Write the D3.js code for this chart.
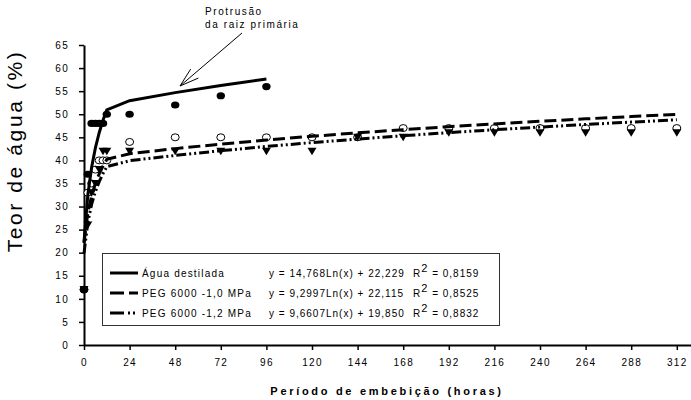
<!DOCTYPE html>
<html>
<head>
<meta charset="utf-8">
<script src="https://cdn.jsdelivr.net/npm/d3@7"></script>
<style>
  body { margin: 0; background: #fff; }
  text { font-family: Arial, "Liberation Sans", sans-serif; fill: #000; }
</style>
</head>
<body>
<svg id="chart" width="691" height="400"></svg>
<script>
/*
Data
*/

// imbibition times (hours)
var horas = [0, 2, 4, 6, 8, 10, 12, 24, 48, 72, 96, 120, 144, 168, 192, 216, 240, 264, 288, 312];

// observed water content (%) – agua stops at 96 h (root protrusion)
var agua  = [12, 37, 48, 48, 48, 48, 50, 50, 52, 54, 56];
var peg10 = [12, 33, 35, 38, 40, 40, 40, 44, 45, 45, 45, 45, 45, 47, 47, 47, 47, 47, 47, 47];
var peg12 = [12, 26, 33, 35, 38, 42, 42, 42, 42, 42, 42, 42, 45, 45, 46, 46, 46, 46, 46, 46];

// legend / fitted log trend (y = a Ln(x) + b, x = observation order)
var nomes    = ["Água destilada", "PEG 6000 -1,0 MPa", "PEG 6000 -1,2 MPa"];
var coefA    = [14.768, 9.2997, 9.6607];
var coefB    = [22.229, 22.115, 19.850];
var equacoes = ["y = 14,768Ln(x) + 22,229", "y = 9,2997Ln(x) + 22,115", "y = 9,6607Ln(x) + 19,850"];
var r2       = ["0,8159", "0,8525", "0,8832"];

var xTicks = d3.range(0, 313, 24);
var yTicks = d3.range(0, 66, 5);

/*
Setup
*/

var svg = d3.select("#chart");

var x = d3.scaleLinear().domain([0, 320]).range([84, 692]);
var y = d3.scaleLinear().domain([0, 65]).range([345, 45]);

var series = [
  { obs: agua,  dash: null,            marker: "dot" },
  { obs: peg10, dash: "12,5",          marker: "ring" },
  { obs: peg12, dash: "10,3,2,3,2,3",  marker: "tri" }
];

/*
Axes
*/

var xAxis = svg.append("g")
  .attr("transform", "translate(0,345)")
  .call(d3.axisBottom(x).tickValues(xTicks).tickSize(5).tickSizeOuter(0).tickPadding(9));

var yAxis = svg.append("g")
  .attr("transform", "translate(84,0)")
  .call(d3.axisLeft(y).tickValues(yTicks).tickSize(5).tickSizeOuter(0).tickPadding(10));

[xAxis, yAxis].forEach(function (g) {
  g.select(".domain").attr("stroke", "#000").attr("stroke-width", 2);
  g.selectAll(".tick line").attr("stroke", "#000").attr("stroke-width", 1.5);
  g.selectAll(".tick text")
    .attr("font-size", 10)
    .attr("font-family", "Arial, 'Liberation Sans', sans-serif")
    .style("letter-spacing", "1.3px")
    .attr("fill", "#000");
});

svg.append("text")
  .attr("transform", "translate(22,151) rotate(-90)")
  .attr("text-anchor", "middle")
  .attr("font-size", 21)
  .style("letter-spacing", "2.6px")
  .text("Teor de água (%)");

svg.append("text")
  .attr("x", 387)
  .attr("y", 395)
  .attr("text-anchor", "middle")
  .attr("font-size", 11)
  .attr("font-weight", "bold")
  .style("letter-spacing", "2.7px")
  .text("Período de embebição (horas)");

/*
Markers (rings first, then triangles, then filled dots)
*/

var tri = "M-4.5,-3.5L4.5,-3.5L0,4Z";
var drawOrder = [1, 2, 0];

drawOrder.forEach(function (k) {
  var s = series[k];
  var g = svg.append("g");
  s.obs.forEach(function (v, i) {
    var cx = x(horas[i]), cy = y(v);
    if (s.marker === "dot") {
      g.append("ellipse").attr("cx", cx).attr("cy", cy).attr("rx", 4.2).attr("ry", 3.6).attr("fill", "#000");
    } else if (s.marker === "ring") {
      g.append("ellipse").attr("cx", cx).attr("cy", cy).attr("rx", 4).attr("ry", 3.5)
        .attr("fill", "#fff").attr("stroke", "#000").attr("stroke-width", 1);
    } else {
      g.append("path").attr("d", tri).attr("transform", "translate(" + cx + "," + cy + ")").attr("fill", "#000");
    }
  });
});

/*
Trend lines
*/

var line = d3.line()
  .x(function (d) { return x(d[0]); })
  .y(function (d) { return y(d[1]); });

series.forEach(function (s, k) {
  var pts = s.obs.map(function (v, i) {
    return [horas[i], coefA[k] * Math.log(i + 1) + coefB[k]];
  });
  svg.append("path")
    .attr("d", line(pts))
    .attr("fill", "none")
    .attr("stroke", "#000")
    .attr("stroke-width", 3)
    .attr("stroke-dasharray", s.dash);
});

/*
Legend
*/

var leg = svg.append("g");
leg.append("rect")
  .attr("x", 102.5).attr("y", 253.5).attr("width", 397).attr("height", 72)
  .attr("fill", "#fff").attr("stroke", "#333").attr("stroke-width", 1);

var rowsY = [273, 293, 313];
var legendDash = [null, "14,5", "14,4,2,3,2,3"];

nomes.forEach(function (n, k) {
  var ry = rowsY[k];
  leg.append("line")
    .attr("x1", 110).attr("x2", 138).attr("y1", ry).attr("y2", ry)
    .attr("stroke", "#000").attr("stroke-width", 3)
    .attr("stroke-dasharray", legendDash[k]);

  leg.append("text").attr("x", 142).attr("y", ry + 4)
    .attr("font-size", 10).style("letter-spacing", "1.2px").text(n);

  leg.append("text").attr("x", 269).attr("y", ry + 4)
    .attr("font-size", 10).style("letter-spacing", "1px").text(equacoes[k]);

  var t = leg.append("text").attr("x", 413).attr("y", ry + 4)
    .attr("font-size", 10).style("letter-spacing", "1px");
  t.append("tspan").text("R");
  t.append("tspan").attr("dy", -5).attr("font-size", 11).text("2");
  t.append("tspan").attr("dy", 5).text(" = " + r2[k]);
});

/*
Annotation
*/

svg.append("text").attr("x", 205).attr("y", 15)
  .attr("font-size", 10).style("letter-spacing", "1.6px").text("Protrusão");
svg.append("text").attr("x", 205).attr("y", 28)
  .attr("font-size", 10).style("letter-spacing", "1.6px").text("da raiz primária");

var tip = [180, 86], tail = [242, 33];
var ang = Math.atan2(tail[1] - tip[1], tail[0] - tip[0]);
var arr = svg.append("g").attr("stroke", "#000").attr("stroke-width", 1).attr("fill", "none");
arr.append("line").attr("x1", tail[0]).attr("y1", tail[1]).attr("x2", tip[0]).attr("y2", tip[1]);
[-0.3, 0.3].forEach(function (da) {
  arr.append("line")
    .attr("x1", tip[0]).attr("y1", tip[1])
    .attr("x2", tip[0] + 20 * Math.cos(ang + da))
    .attr("y2", tip[1] + 20 * Math.sin(ang + da));
});
</script>
</body>
</html>
